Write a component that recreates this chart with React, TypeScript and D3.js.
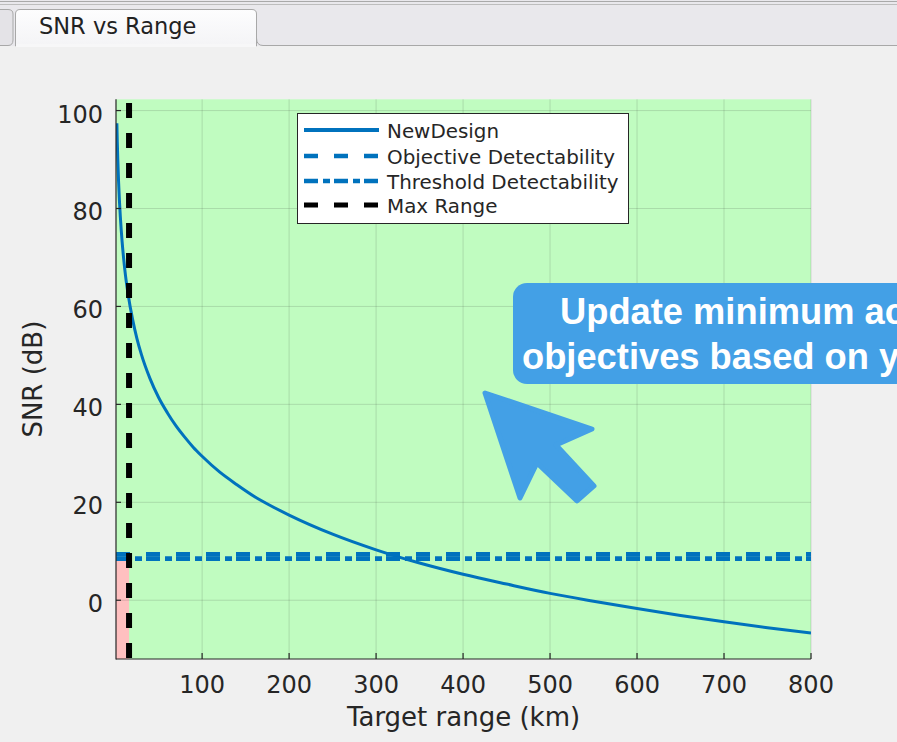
import React from 'react';
import * as d3 from 'd3';

// ---- data ----
const rangesKm = [2, 2.5, 3, 4, 5, 6, 8, 10, 12, 15, 20, 25, 30, 40, 50, 60, 70, 80, 90, 100, 120, 140, 160, 180, 200, 250, 300, 350, 400, 450, 500, 550, 600, 650, 700, 750, 800];
const snrDb = [97.4, 93.5, 90.3, 85.3, 81.4, 78.3, 73.3, 69.4, 66.2, 62.4, 57.4, 53.5, 50.3, 45.3, 41.4, 38.3, 35.6, 33.3, 31.2, 29.4, 26.2, 23.6, 21.2, 19.2, 17.4, 13.5, 10.3, 7.6, 5.3, 3.3, 1.4, -0.2, -1.7, -3.1, -4.4, -5.6, -6.7];
const objectiveDb = 9.4;
const thresholdDb = 8.5;
const maxRangeKm = 16;
const xTicks = [100, 200, 300, 400, 500, 600, 700, 800];
const yTicks = [0, 20, 40, 60, 80, 100];
const xDomain = [1, 800];
const yDomain = [-12, 102.3];
const legendLabels = ['NewDesign', 'Objective Detectability', 'Threshold Detectability', 'Max Range'];
const tabTitle = 'SNR vs Range';
const xLabel = 'Target range (km)';
const yLabel = 'SNR (dB)';
const calloutLines = ['Update minimum acceptable', 'objectives based on your requirements'];

const W = 897;
const H = 742;
const plot = { left: 116, right: 811, top: 99.3, bottom: 659 };
const BLUE = '#0072bd';
const AXC = '#262626';
const FONT = '"DejaVu Sans", sans-serif';

export default function App() {
  const x = d3.scaleLinear().domain(xDomain).range([plot.left, plot.right]);
  const y = d3.scaleLinear().domain(yDomain).range([plot.bottom, plot.top]);
  const pts: [number, number][] = rangesKm.map((r, i) => [r, snrDb[i]]);
  const line = d3.line<[number, number]>().x(d => x(d[0])).y(d => y(d[1])).curve(d3.curveMonotoneX);

  const legendX = 297, legendY = 113, legendW = 331, legendH = 110;
  const rowYs = [130, 156, 181, 205];
  const styles = [
    { stroke: BLUE, dash: undefined as string | undefined, w: 4 },
    { stroke: BLUE, dash: '14,16', w: 4.5 },
    { stroke: BLUE, dash: '14,5,7,4', w: 4.5 },
    { stroke: '#000', dash: '14,16', w: 5 },
  ];

  const arrowPts: [number, number][] = [[485, 393], [592, 429], [556, 445], [594, 486], [577, 501], [537, 463], [520, 498]];

  return (
    <svg width={W} height={H} style={{ position: 'absolute', left: 0, top: 0 }} fontFamily={FONT}>
      <defs>
        <clipPath id="plotclip">
          <rect x={plot.left} y={plot.top} width={plot.right - plot.left} height={plot.bottom - plot.top} />
        </clipPath>
        <linearGradient id="tabgrad" x1="0" y1="0" x2="0" y2="1">
          <stop offset="0" stopColor="#fdfdfe" />
          <stop offset="1" stopColor="#f4f4f6" />
        </linearGradient>
      </defs>
      {/* background */}
      <rect x={0} y={0} width={W} height={H} fill="#f0f0f0" />
      {/* tab strip */}
      <rect x={0} y={0} width={W} height={46} fill="#e9e8ec" />
      <line x1={0} x2={W} y1={1.5} y2={1.5} stroke="#a9a9a9" strokeWidth={1} />
      <line x1={0} x2={W} y1={4.5} y2={4.5} stroke="#bdbdbd" strokeWidth={1} />
      <path d={`M-2,9.5 L8,9.5 Q13,9.5 13,14 L13,40 Q13,45.5 8,45.5 L-2,45.5`} fill="#e4e3e7" stroke="#a8a8a8" />
      <path d={`M256.5,38 Q256.5,45.5 263,45.5 L${W},45.5`} fill="none" stroke="#a8a8a8" />
      <path d={`M15.5,46 L15.5,14 Q15.5,9.5 20,9.5 L252,9.5 Q256.5,9.5 256.5,14 L256.5,46 Z`} fill="url(#tabgrad)" stroke="#a8a8a8" />
      <rect x={16} y={44} width={240} height={3} fill="#f7f7f8" />
      <text x={39} y={33.5} fontSize={22.5} fill="#222">{tabTitle}</text>

      {/* plot background */}
      <rect x={plot.left} y={plot.top} width={plot.right - plot.left} height={plot.bottom - plot.top} fill="#c0fcc0" />
      <rect x={plot.left} y={y(thresholdDb)} width={x(maxRangeKm) - plot.left} height={plot.bottom - y(thresholdDb)} fill="#ffc0c0" />

      {/* grid */}
      {xTicks.map(t => (
        <line key={'gx' + t} x1={x(t)} x2={x(t)} y1={plot.top} y2={plot.bottom} stroke={AXC} strokeOpacity={0.15} />
      ))}
      {yTicks.map(t => (
        <line key={'gy' + t} x1={plot.left} x2={plot.right} y1={y(t)} y2={y(t)} stroke={AXC} strokeOpacity={0.15} />
      ))}

      <g clipPath="url(#plotclip)">
        <path d={line(pts) || ''} fill="none" stroke={BLUE} strokeWidth={3} />
        <line x1={plot.left} x2={plot.right} y1={y(objectiveDb)} y2={y(objectiveDb)} stroke={BLUE} strokeWidth={4.6} strokeDasharray="14,16" />
        <line x1={plot.left} x2={plot.right} y1={y(thresholdDb)} y2={y(thresholdDb)} stroke={BLUE} strokeWidth={4.6} strokeDasharray="14,5,7,4" />
        <line x1={x(maxRangeKm)} x2={x(maxRangeKm)} y1={plot.top} y2={plot.bottom} stroke="#000" strokeWidth={6} strokeDasharray="15,15" strokeDashoffset={26.3} />
      </g>

      {/* axes */}
      <line x1={plot.left} x2={plot.left} y1={plot.top} y2={plot.bottom + 0.5} stroke={AXC} strokeWidth={1.2} />
      <line x1={plot.left} x2={plot.right} y1={plot.bottom} y2={plot.bottom} stroke={AXC} strokeWidth={1.2} />
      {xTicks.map(t => (
        <g key={'xt' + t}>
          <line x1={x(t)} x2={x(t)} y1={plot.bottom} y2={plot.bottom - 6} stroke={AXC} strokeWidth={1.2} />
          <text x={x(t)} y={692.5} fontSize={24} fill={AXC} textAnchor="middle">{t}</text>
        </g>
      ))}
      {yTicks.map(t => (
        <g key={'yt' + t}>
          <line x1={plot.left} x2={plot.left + 5} y1={y(t)} y2={y(t)} stroke={AXC} strokeWidth={1.2} />
          <text x={103} y={y(t) + 12} fontSize={24} fill={AXC} textAnchor="end">{t}</text>
        </g>
      ))}
      <text x={(plot.left + plot.right) / 2} y={726} fontSize={26} fill={AXC} textAnchor="middle">{xLabel}</text>
      <text transform={`translate(42,${(plot.top + plot.bottom) / 2}) rotate(-90)`} fontSize={26} fill={AXC} textAnchor="middle">{yLabel}</text>

      {/* legend */}
      <rect x={legendX + 0.5} y={legendY + 0.5} width={legendW} height={legendH} fill="#fff" stroke={AXC} strokeWidth={1} />
      {legendLabels.map((lab, i) => (
        <g key={lab}>
          <line x1={304} x2={379} y1={rowYs[i]} y2={rowYs[i]} stroke={styles[i].stroke} strokeWidth={styles[i].w} strokeDasharray={styles[i].dash} />
          <text x={387} y={rowYs[i] + 8} fontSize={19.9} fill={AXC}>{lab}</text>
        </g>
      ))}

      {/* callout */}
      <rect x={513} y={283} width={440} height={101} rx={14} fill="#43a0e6" />
      <text x={560} y={323.5} fontSize={36.3} fontWeight="bold" fill="#fff" fontFamily='"Liberation Sans", Arial, sans-serif'>{calloutLines[0]}</text>
      <text x={522} y={369} fontSize={36.3} fontWeight="bold" fill="#fff" fontFamily='"Liberation Sans", Arial, sans-serif'>{calloutLines[1]}</text>
      <path d={'M' + arrowPts.map(p => p.join(',')).join('L') + 'Z'} fill="#43a0e6" stroke="#43a0e6" strokeWidth={5} strokeLinejoin="round" />
    </svg>
  );
}
